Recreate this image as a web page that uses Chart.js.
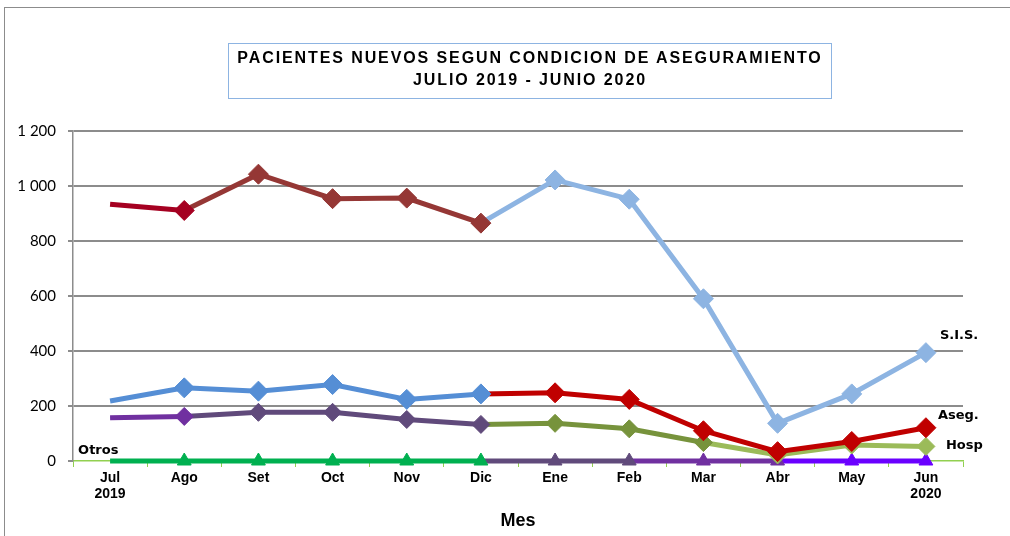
<!DOCTYPE html>
<html>
<head>
<meta charset="utf-8">
<script src="https://cdn.jsdelivr.net/npm/chart.js@4/dist/chart.umd.min.js"></script>
<style>
  html, body { margin: 0; padding: 0; background: #fff; }
  #wrap { position: relative; width: 1010px; height: 536px; overflow: hidden; }
  #marco { position: absolute; left: 4px; top: 7px; width: 1100px; height: 600px; border: 1px solid #8c8c8c; }
  #titulo {
    position: absolute; left: 228px; top: 43px; width: 602px; height: 51px;
    border: 1.5px solid #8DB4E2; box-sizing: content-box;
    font: bold 16px 'Liberation Sans Narrow', 'Liberation Sans', Arial, sans-serif;
    letter-spacing: 1.9px; text-align: center; line-height: 22px; padding-top: 3px;
    color: #000;
  }
  canvas { position: absolute; left: 0; top: 0; }
</style>
</head>
<body>
<div id="wrap">
  <div id="marco"></div>
  <canvas id="grafico" width="1010" height="536"></canvas>
  <div id="titulo">PACIENTES NUEVOS SEGUN CONDICION DE ASEGURAMIENTO<br>JULIO 2019 - JUNIO 2020</div>
</div>
<script>
// ── Datos ─────────────────────────────────────────────────────
const meses = ['Jul', 'Ago', 'Set', 'Oct', 'Nov', 'Dic', 'Ene', 'Feb', 'Mar', 'Abr', 'May', 'Jun'];
const anioInicio = '2019';
const anioFin    = '2020';

const sis   = [934, 911, 1043, 954, 956, 865, 1022, 952, 590, 137, 244, 394];
const aseg  = [218, 266, 254, 278, 224, 244, 248, 224, 110, 34, 71, 121];
const hosp  = [157, 162, 177, 177, 151, 133, 137, 117, 67, 22, 58, 53];
const otros = [0, 0, 0, 0, 0, 0, 0, 0, 0, 0, 0, 0];

const yTicks = [0, 200, 400, 600, 800, 1000, 1200];

// colores por punto (el tramo toma el color del punto donde termina)
const colSis   = ['#A50021', '#A50021', '#953735', '#953735', '#953735', '#953735',
                  '#8DB4E2', '#8DB4E2', '#8DB4E2', '#8DB4E2', '#8DB4E2', '#8DB4E2'];
const colAseg  = ['#558ED5', '#558ED5', '#558ED5', '#558ED5', '#558ED5', '#558ED5',
                  '#C00000', '#C00000', '#C00000', '#C00000', '#C00000', '#C00000'];
const colHosp  = ['#7030A0', '#7030A0', '#604A7B', '#604A7B', '#604A7B', '#604A7B',
                  '#77933C', '#77933C', '#77933C', '#9BBB59', '#9BBB59', '#9BBB59'];
const colOtros = ['#00B050', '#00B050', '#00B050', '#00B050', '#00B050', '#00B050',
                  '#604A7B', '#604A7B', '#7030A0', '#7030A0', '#6A00FF', '#6A00FF'];

const etiquetas = meses.map((m, i) =>
  i === 0 ? [m, anioInicio] : i === meses.length - 1 ? [m, anioFin] : m);

function serie(label, data, colores, estilo, radio) {
  return {
    label, data,
    borderWidth: 5,
    borderColor: colores[1],
    segment: { borderColor: ctx => colores[ctx.p1DataIndex] },
    pointStyle: estilo,
    pointRadius: data.map((v, i) => i === 0 ? 0 : radio),
    pointHoverRadius: data.map((v, i) => i === 0 ? 0 : radio),
    pointBackgroundColor: colores,
    pointBorderColor: colores,
    pointBorderWidth: 1,
    tension: 0,
    clip: false
  };
}

// Rótulos de series al final de cada línea
const rotulos = [
  { texto: 'S.I.S.', serie: 0, idx: 11, dx: 14, dy: -17 },
  { texto: 'Aseg.',  serie: 1, idx: 11, dx: 12, dy: -12 },
  { texto: 'Hosp',   serie: 2, idx: 11, dx: 20, dy: -1 },
  { texto: 'Otros',  serie: 3, idx: 0,  dx: -32, dy: -10 }
];

const pluginRotulos = {
  id: 'rotulos',
  afterDatasetsDraw(chart) {
    const { ctx, scales: { x, y } } = chart;
    ctx.save();
    ctx.font = 'bold 13px "DejaVu Sans", sans-serif';
    ctx.fillStyle = '#000';
    ctx.textBaseline = 'middle';
    ctx.textAlign = 'left';
    rotulos.forEach(r => {
      const ds = chart.data.datasets[r.serie];
      ctx.fillText(r.texto, x.getPixelForValue(r.idx) + r.dx, y.getPixelForValue(ds.data[r.idx]) + r.dy);
    });
    ctx.restore();
  }
};

new Chart(document.getElementById('grafico'), {
  type: 'line',
  data: {
    labels: etiquetas,
    datasets: [
      serie('S.I.S.', sis,   colSis,   'rectRot', 10),
      serie('Aseg.',  aseg,  colAseg,  'rectRot', 10),
      serie('Hosp',   hosp,  colHosp,  'rectRot', 9),
      serie('Otros',  otros, colOtros, 'triangle', 8)
    ]
  },
  options: {
    responsive: false,
    animation: false,
    events: [],
    layout: { padding: { top: 131, right: 47, left: 0, bottom: 0 } },
    plugins: { legend: { display: false }, tooltip: { enabled: false }, title: { display: false } },
    scales: {
      x: {
        offset: true,
        afterFit: s => { s.height = 75; },
        grid: { display: true, drawOnChartArea: false, drawTicks: true, tickLength: 6, color: '#92D050', offset: true },
        border: { display: true, color: '#92D050', width: 1.5 },
        ticks: {
          color: '#000', padding: 3, maxRotation: 0, autoSkip: false,
          font: { family: "'Liberation Sans Narrow', 'Liberation Sans', Arial, sans-serif", size: 14, weight: 'bold', lineHeight: 1.15 }
        },
        title: {
          display: true, text: 'Mes', color: '#000', padding: { top: 2, bottom: 4 },
          font: { family: "'Liberation Sans Narrow', 'Liberation Sans', Arial, sans-serif", size: 18, weight: 'bold' }
        }
      },
      y: {
        min: 0, max: 1200,
        afterFit: s => { s.width = 73; },
        afterBuildTicks: s => { s.ticks = yTicks.map(v => ({ value: v })); },
        grid: {
          color: c => c.tick && c.tick.value === 0 ? 'rgba(0,0,0,0)' : '#8c8c8c',
          lineWidth: 2, drawTicks: true, tickLength: 5, tickColor: '#8c8c8c'
        },
        border: { display: true, color: '#8c8c8c', width: 1.5 },
        ticks: {
          color: '#000', padding: 12,
          font: { family: 'Lato, sans-serif', size: 15 },
          callback: v => v >= 1000 ? Math.floor(v / 1000) + ' ' + String(v % 1000).padStart(3, '0') : String(v)
        }
      }
    }
  },
  plugins: [pluginRotulos]
});
</script>
</body>
</html>
